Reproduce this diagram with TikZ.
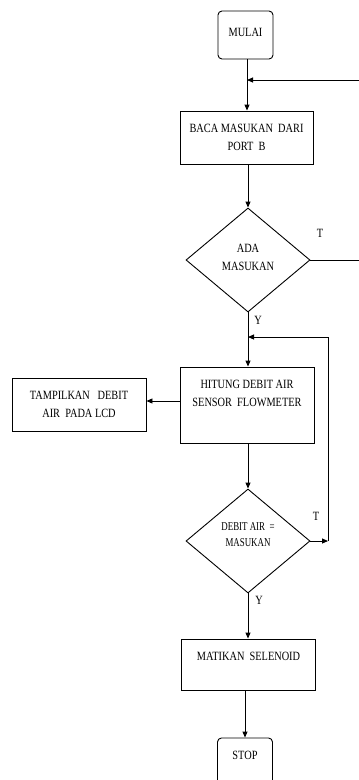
\documentclass[tikz,border=0pt]{standalone}
\usepackage{fontspec}
\setmainfont{Liberation Serif}[FakeStretch=0.82]
\newfontfamily\narrowfont{Liberation Serif}[FakeStretch=0.74]
\usetikzlibrary{arrows.meta,shapes.geometric}
\begin{document}
\begin{tikzpicture}[x=1pt,y=-1pt,
  line width=0.9pt,
  arr/.style={-{Triangle[length=6pt,width=5pt]}},
  boxst/.style={draw, rectangle, inner sep=0pt},
  termst/.style={draw, rectangle, rounded corners=4pt, inner sep=0pt, minimum width=55pt, minimum height=48pt},
  decst/.style={draw, diamond, inner sep=0pt, minimum width=124pt, minimum height=104pt},
  txt/.style={inner sep=0pt, font=\fontsize{12.6}{18}\selectfont, align=center},
  smalltxt/.style={inner sep=0pt, font=\narrowfont\fontsize{12}{16}\selectfont, align=center},
  lbl/.style={inner sep=0pt, font=\fontsize{12.6}{14}\selectfont}]
\useasboundingbox (0,0) rectangle (359,780);
% shapes
\node[termst] (mulai) at (245.5,35) {};
\node[boxst, minimum width=133pt, minimum height=53pt] (baca) at (246.5,137.5) {};
\node[decst] (d1) at (248,260) {};
\node[boxst, minimum width=134pt, minimum height=76pt] (hitung) at (247,405) {};
\node[boxst, minimum width=134pt, minimum height=53pt] (tampil) at (79,404.5) {};
\node[decst] (d2) at (248,541) {};
\node[boxst, minimum width=134pt, minimum height=51pt] (matikan) at (248.5,664.5) {};
\node[termst] (stop) at (245,762) {};
% texts
\node[txt] (tmulai) at (245.5,32) {MULAI};
\node[txt] (tbaca) at (246.5,137) {BACA MASUKAN~ DARI\\PORT~ B};
\node[txt] (td1) at (248,257) {ADA\\MASUKAN};
\node[txt] (thitung) at (247,393) {HITUNG DEBIT AIR\\SENSOR~ FLOWMETER};
\node[txt] (ttampil) at (79,404) {TAMPILKAN~~ DEBIT\\AIR~ PADA LCD};
\node[smalltxt] (td2) at (248,535) {DEBIT AIR~ =\\MASUKAN};
\node[txt] (tmatikan) at (248.5,656) {MATIKAN~ SELENOID};
\node[txt] (tstop) at (245,755) {STOP};
% branch labels
\node[lbl] (t1) at (320,233) {T};
\node[lbl] (y1) at (258,320) {Y};
\node[lbl] (t2) at (316,516) {T};
\node[lbl] (y2) at (259,600) {Y};
% helper coordinates
\coordinate (j1) at (247,80);
\coordinate (e1) at (360,80);
\coordinate (e2) at (360,260);
\coordinate (j2) at (248,337);
\coordinate (c2) at (328,541);
% connectors
\draw (mulai.south -| j1) -- (j1);
\draw[arr] (j1) -- (baca.north -| j1);
\draw[arr] (e1) -- (j1);
\draw[arr] (baca.south -| d1.north) -- (d1.north);
\draw (d1.east) -- (e2);
\draw (d1.south) -- (j2);
\draw[arr] (j2) -- (hitung.north -| j2);
\draw[arr] (c2) |- (j2);
\draw[arr] (hitung.west |- 0,401) -- (tampil.east |- 0,401);
\draw[arr] (hitung.south -| d2.north) -- (d2.north);
\draw[arr] (d2.east) -- (c2);
\draw[arr] (d2.south) -- (matikan.north -| d2.south);
\draw[arr] (matikan.south -| stop.north) -- (stop.north);
\end{tikzpicture}
\end{document}
